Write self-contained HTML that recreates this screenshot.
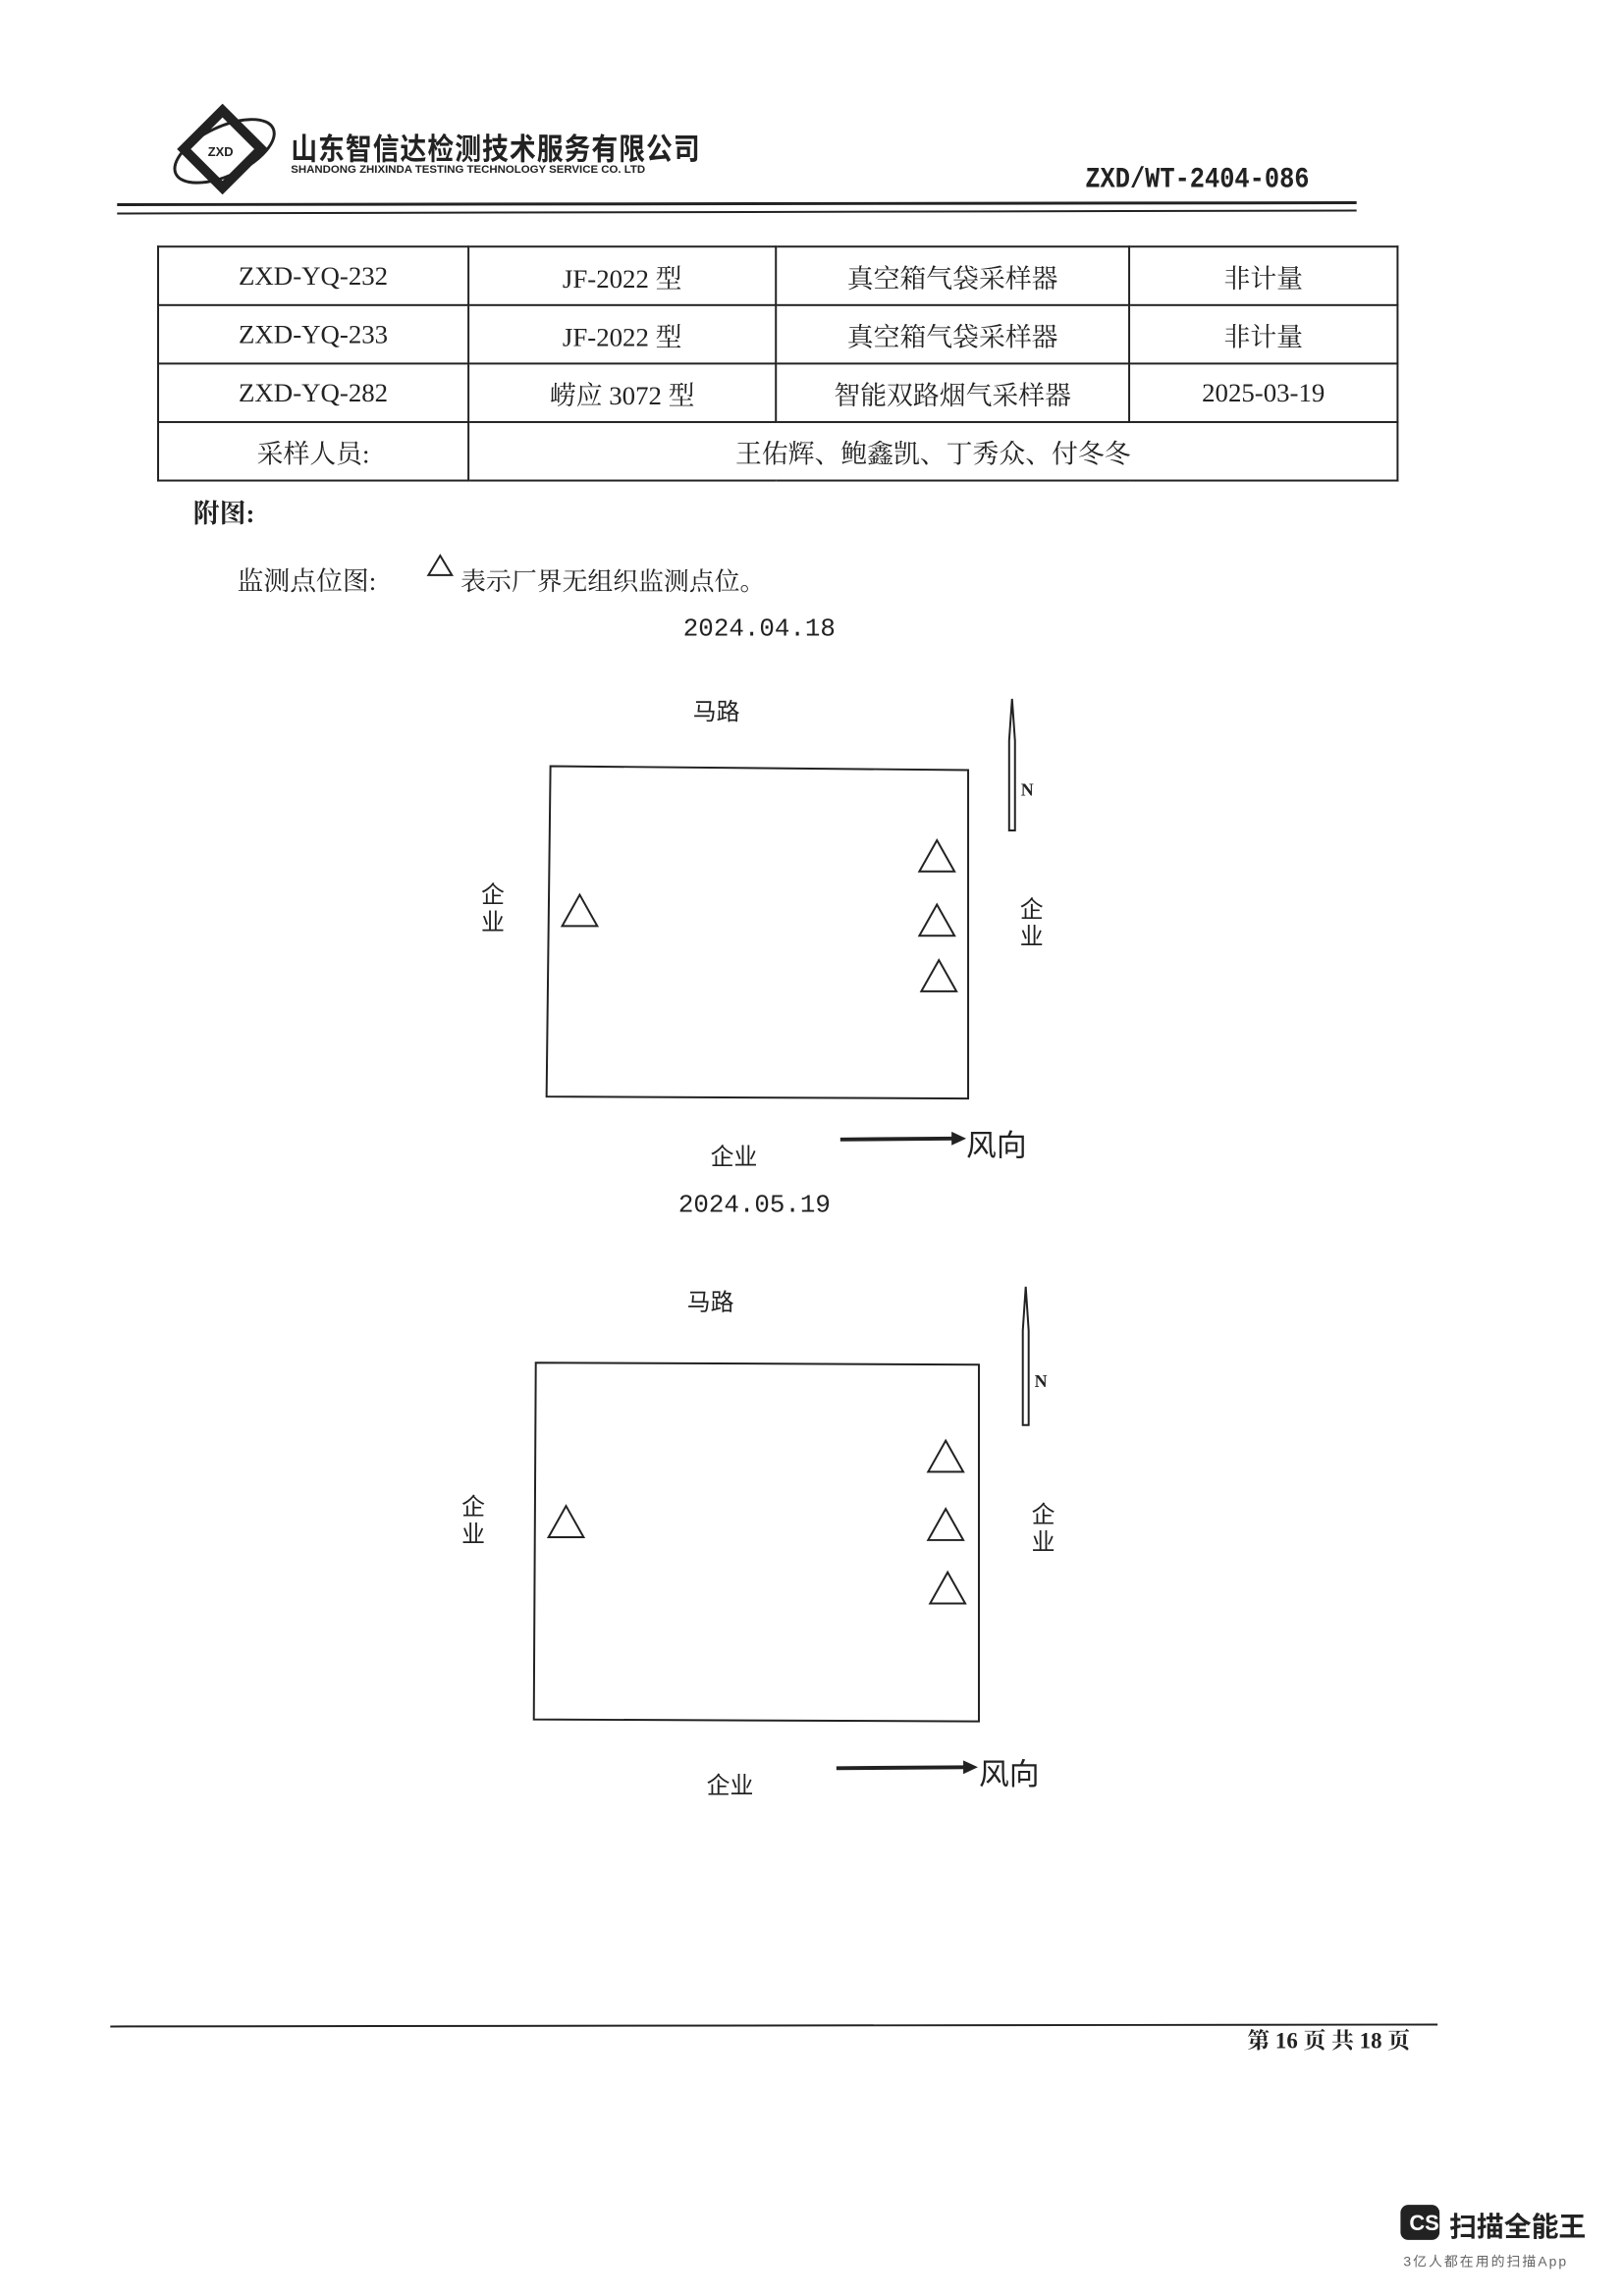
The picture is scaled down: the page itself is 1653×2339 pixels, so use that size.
<!DOCTYPE html>
<html><head><meta charset="utf-8"><style>
body{margin:0;width:1653px;height:2339px;background:#fff;position:relative;overflow:hidden;font-family:"Liberation Serif","Noto Serif CJK SC",serif;color:#222}
#w{position:absolute;left:0;top:0;width:1653px;height:2339px;transform:scale(0.994,0.993);transform-origin:0 0}
.a{position:absolute;white-space:nowrap}
.s{font-family:"Liberation Sans","Noto Sans CJK SC",sans-serif}
table{position:absolute;left:161px;top:252px;width:1272px;border-collapse:collapse}
td{border:2px solid #222;height:58px;text-align:center;font-size:27px;padding:0}
</style></head><body><div id="w">
<svg class="a" style="left:0;top:0" width="1653" height="2339">
<g fill="none" stroke="#222">
<ellipse cx="230" cy="155" rx="55" ry="25" stroke-width="3" transform="rotate(-25 230 155)"/>
<rect x="200" y="125" width="56" height="56" stroke-width="10" transform="rotate(45 228 153)"/>
<line x1="120" y1="210" x2="1390" y2="208" stroke-width="3"/>
<line x1="120" y1="219" x2="1390" y2="216" stroke-width="2"/>
<polygon points="564,786 992,790 992,1127 560,1125" stroke-width="2"/>
<polygon points="549,1398 1003,1400 1003,1766 547,1764" stroke-width="2"/>
<line x1="113" y1="2079" x2="1473" y2="2077" stroke-width="2"/>
</g>
<g fill="none" stroke="#222" stroke-width="2">
<polygon points="451,570 463,590 439,590"/>
<polygon points="594,918 612,950 576,950"/><polygon points="960,862 978,894 942,894"/><polygon points="960,928 978,960 942,960"/><polygon points="962,985 980,1017 944,1017"/>
<polygon points="580,1545 598,1577 562,1577"/><polygon points="969,1478 987,1510 951,1510"/><polygon points="969,1548 987,1580 951,1580"/><polygon points="971,1613 989,1645 953,1645"/>
<path d="M1037,717 L1040,760 L1040,852 L1034,852 L1034,760 Z"/>
<path d="M1051,1320 L1054,1365 L1054,1462 L1048,1462 L1048,1365 Z"/>
</g>
<g fill="#222">
<line x1="861" y1="1169" x2="978" y2="1168" stroke="#222" stroke-width="4"/><polygon points="975,1161 990,1168 975,1175"/>
<line x1="857" y1="1814" x2="990" y2="1813" stroke="#222" stroke-width="4"/><polygon points="987,1806 1002,1813 987,1820"/>
<rect x="1435" y="2262" width="40" height="36" rx="8"/>
</g>
<text x="1444" y="2288" fill="#fff" font-family="Liberation Sans" font-weight="bold" font-size="22">CS</text>
<text x="213" y="160" font-family="Liberation Sans" font-size="13" font-weight="bold" fill="#222">ZXD</text>
</svg>
<div class="a s" style="left:298px;top:128px;font-size:27px;font-weight:bold;letter-spacing:1px;transform:scaleY(1.15);transform-origin:left top">山东智信达检测技术服务有限公司</div>
<div class="a s" style="left:298px;top:168px;font-size:11.5px;font-weight:bold">SHANDONG ZHIXINDA TESTING TECHNOLOGY SERVICE CO. LTD</div>
<div class="a" style="left:1112px;top:168px;font-size:30px;font-weight:bold;font-family:'Liberation Mono',monospace;transform:scaleX(.85);transform-origin:left">ZXD/WT-2404-086</div>
<table>
<tr><td style="width:316px">ZXD-YQ-232</td><td style="width:313px">JF-2022 型</td><td style="width:360px">真空箱气袋采样器</td><td>非计量</td></tr>
<tr><td>ZXD-YQ-233</td><td>JF-2022 型</td><td>真空箱气袋采样器</td><td>非计量</td></tr>
<tr><td>ZXD-YQ-282</td><td>崂应 3072 型</td><td>智能双路烟气采样器</td><td>2025-03-19</td></tr>
<tr><td>采样人员:</td><td colspan="3">王佑辉、鲍鑫凯、丁秀众、付冬冬</td></tr>
</table>
<div class="a" style="left:198px;top:505px;font-size:27px;font-weight:bold">附图:</div>
<div class="a" style="left:243px;top:574px;font-size:27px">监测点位图:</div>
<div class="a" style="left:472px;top:576px;font-size:26px">表示厂界无组织监测点位。</div>
<div class="a" style="left:700px;top:630px;font-size:26px;font-family:'Liberation Mono',monospace">2024.04.18</div>
<div class="a s" style="left:710px;top:710px;font-size:24px">马路</div>
<div class="a s" style="left:493px;top:905px;font-size:24px;line-height:28px">企<br>业</div>
<div class="a s" style="left:1045px;top:920px;font-size:24px;line-height:28px">企<br>业</div>
<div class="a" style="left:1046px;top:800px;font-size:18px;font-weight:bold">N</div>
<div class="a s" style="left:728px;top:1167px;font-size:24px">企业</div>
<div class="a s" style="left:990px;top:1150px;font-size:31px">风向</div>
<div class="a" style="left:695px;top:1221px;font-size:26px;font-family:'Liberation Mono',monospace">2024.05.19</div>
<div class="a s" style="left:704px;top:1316px;font-size:24px">马路</div>
<div class="a s" style="left:473px;top:1533px;font-size:24px;line-height:28px">企<br>业</div>
<div class="a s" style="left:1057px;top:1541px;font-size:24px;line-height:28px">企<br>业</div>
<div class="a" style="left:1060px;top:1407px;font-size:18px;font-weight:bold">N</div>
<div class="a s" style="left:724px;top:1812px;font-size:24px">企业</div>
<div class="a s" style="left:1003px;top:1795px;font-size:31px">风向</div>
<div class="a" style="left:1278px;top:2075px;font-size:23px;font-weight:bold">第 16 页 共 18 页</div>
<div class="a s" style="left:1485px;top:2263px;font-size:28px;font-weight:bold">扫描全能王</div>
<div class="a s" style="left:1438px;top:2310px;font-size:14px;color:#666;letter-spacing:2px">3亿人都在用的扫描App</div>
</div></body></html>
